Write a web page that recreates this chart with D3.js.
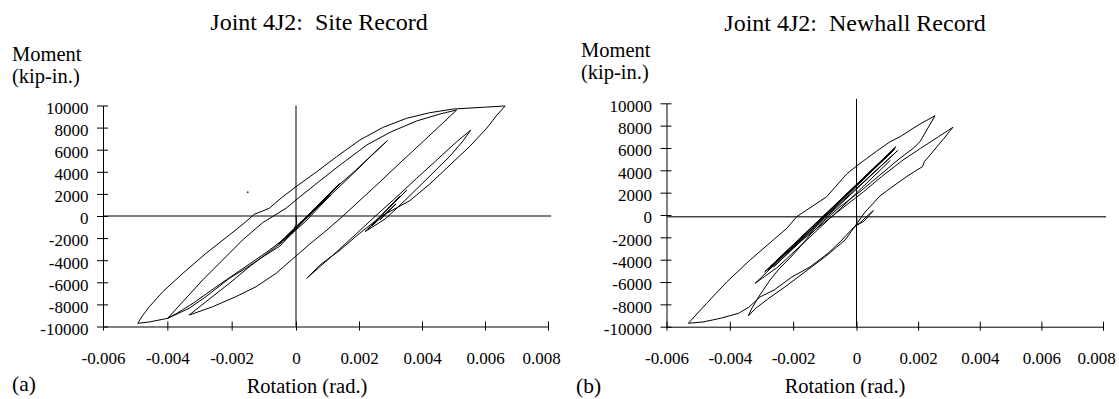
<!DOCTYPE html>
<html>
<head>
<meta charset="utf-8">
<script src="https://d3js.org/d3.v7.min.js"></script>
</head>
<body style="margin:0; background:white">
<div id="chart"></div>
<script>
// tick values shared by both panels
const xTicks = [-0.006, -0.004, -0.002, 0, 0.002, 0.004, 0.006, 0.008];
const yTicks = [-10000, -8000, -6000, -4000, -2000, 0, 2000, 4000, 6000, 8000, 10000];

// ---- (a) Site record : [rotation (rad), moment (kip-in.)] ----
const siteEarly = [[0,0],[0.00002,-700],[-0.00008,-1300],[-0.0005,-2450],[0.0014,2950],[-0.0004,-2200],[0.00135,2800],
  [-0.00055,-2550],[0.0013,2650],[-0.00035,-2000],[0.0014,2900],[0.0019,4150],[0.0024,5500],[0.0029,6815],
  [0.00241,5500],[0.00193,4160],[0.0014,2710],[0.00076,990],[0.00013,-770],[-0.0005,-2720],[-0.00104,-3710],
  [-0.00155,-4710],[-0.00207,-5640],[-0.0028,-7300],[-0.00332,-8350],[-0.00399,-9260]];
const siteUpToP2 = [[-0.00399,-9260],[-0.00352,-7760],[-0.0029,-5790],[-0.00228,-3980],[-0.00166,-2170],[-0.00104,-610],
  [-0.00068,30],[-0.00031,700],[0,1450],[0.00066,2960],[0.0014,4620],[0.00225,6430],[0.00299,7580],[0.00383,8600],
  [0.00457,9230],[0.0051,9590]];
const siteDownFromP2 = [[0.0051,9590],[0.00457,8170],[0.00394,6490],[0.0033,4800],[0.00267,3100],[0.00203,1420],
  [0.00148,-30],[0.00098,-1270],[0.00044,-2530],[0,-3620],[-0.00062,-5190],[-0.00124,-6400],[-0.00187,-7300],
  [-0.00259,-8210],[-0.00311,-8750],[-0.00332,-8960]];
const siteMid = [[-0.00332,-8960],[-0.0028,-7760],[-0.00207,-6090],[-0.00145,-4590],[-0.00083,-3230],[-0.00041,-2330],
  [0.0003,-500],[0.0011,1900],[0.0006,600],[-0.0002,-1700],[-0.0009,-3250],[-0.0017,-4850],[-0.0025,-6450],
  [-0.0032,-7900],[-0.0037,-8800],[-0.00399,-9260],[-0.00456,-9590],[-0.00492,-9710]];
const siteUpToP1 = [[-0.00492,-9710],[-0.00477,-9020],[-0.00456,-8210],[-0.00414,-6850],[-0.00352,-5190],[-0.0028,-3380],
  [-0.00207,-1720],[-0.00156,-520],[-0.0013,150],[-0.00104,450],[-0.00083,700],[-0.00041,1750],[0,2650],
  [0.00066,4010],[0.00129,5370],[0.00203,6880],[0.00277,8030],[0.00351,8840],[0.00425,9350],[0.00499,9680],
  [0.00595,9840],[0.00664,9955]];
const siteLate = [[0.00664,9955],[0.00638,9140],[0.00606,7960],[0.00553,6340],[0.00489,4620],[0.00425,2900],
  [0.00362,1400],[0.00272,0],[0.00203,-1540],[0.0014,-3080],[0.00076,-4430],[0.00034,-5640],
  [0.00118,-3530],[0.00193,-1570],[0.00251,-30],[0.00309,1450],[0.00383,3410],[0.00447,5070],[0.0051,6720],
  [0.00555,7780],[0.0053,6790],[0.00489,5430],[0.00425,3620],[0.00362,1860],[0.00314,540],[0.00283,-270],
  [0.00219,-1420],[0.00352,2350],[0.00229,-1180],[0.0033,1810],[0.00241,-900],[0.00317,1090],[0.00267,-360]];
const siteStray = [[-0.0015,2150]];

// ---- (b) Newhall record ----
const newhallStart = [[0,0],[0.00002,-900],[0.00025,-550],[0.00055,400],[0.0004,50],[0.00013,-650],[0.00002,-895],
  [-0.00011,-1164],[-0.00046,-2238],[-0.0009,-3428],[-0.00147,-4654],[-0.00204,-5549],[-0.0026,-6713],
  [-0.00305,-7339],[-0.00339,-8234],[-0.00372,-8798],[-0.00429,-9245],[-0.00485,-9577],[-0.00531,-9693]];
const newhallUpToP1 = [[-0.00531,-9693],[-0.00473,-7903],[-0.0041,-5997],[-0.00336,-4028],[-0.00263,-2238],
  [-0.0022,-1190],[-0.00189,-152],[-0.00157,448],[-0.00094,1638],[-0.00031,3670],[0,4386],[0.00033,5057],
  [0.00066,5728],[0.00109,6560],[0.00141,7008],[0.00206,8145],[0.00255,8887]];
const newhallDownFromP1 = [[0.00255,8887],[0.00228,7608],[0.00206,6560],[0.00184,5970],[0.00141,5075],[0.00076,3580],
  [0.00011,2085],[-0.00052,743],[-0.00105,-600],[-0.00147,-1790],[-0.00178,-2837],[-0.0021,-3849],[-0.00242,-4744],
  [-0.00273,-5818],[-0.00305,-7160],[-0.0033,-8324],[-0.00342,-9040]];
const newhallUpToP2 = [[-0.00342,-9040],[-0.00317,-8324],[-0.0028,-7518],[-0.00226,-6444],[-0.00163,-5102],
  [-0.001,-3759],[-0.00036,-2238],[0.00028,269],[0.00076,1701],[0.00115,2506],[0.00161,3401],[0.00196,4028],
  [0.00214,4323],[0.0022,4770],[0.00239,5370],[0.00261,6113],[0.00284,6865],[0.00301,7455],[0.00313,7849]];
const newhallLate = [[0.00313,7849],[0.00266,7008],[0.00208,5970],[0.00151,4923],[0.00081,3428],[0.00023,2085],
  [-0.00036,806],[-0.001,-627],[-0.00163,-2059],[-0.0021,-3133],[-0.00242,-3849],[-0.00273,-4627],
  [0.00128,6113],[-0.0028,-4900],[0.00133,5755],[-0.00262,-4650],[0.00118,5730],[-0.0029,-5100],[0.00125,5950],
  [-0.0025,-4200],[-0.0032,-6113],[-0.0029,-5500],[-0.0025,-4700],[-0.0015,-2050],[-0.0005,600],[0.0005,3300],
  [0.0011,4900]];

const panels = [
  { tag: "(a)", title: "Joint 4J2:\u00a0\u00a0Site Record", xr: [103, 296, 548], yr: [326.5, 105.5],
    titleX: 319, titleY: 30, momentX: 12, momentY: 61, rotX: 307, rotY: 393, tagX: 12, tagY: 391,
    hLine: 0, vTop: 10000, series: [siteEarly, siteUpToP2, siteDownFromP2, siteMid, siteUpToP1, siteLate], dots: siteStray },
  { tag: "(b)", title: "Joint 4J2:\u00a0\u00a0Newhall Record", xr: [666.5, 856.5, 1103], yr: [326.7, 103.3],
    titleX: 855, titleY: 30.5, momentX: 581, momentY: 57, rotX: 845, rotY: 393, tagX: 576, tagY: 393,
    hLine: -150, vTop: 10400, series: [newhallStart, newhallUpToP1, newhallDownFromP1, newhallUpToP2, newhallLate], dots: [] }
];

const serif = "'Liberation Serif', 'Times New Roman', 'DejaVu Serif', serif";

const svg = d3.select("#chart").append("svg")
  .attr("width", 1119).attr("height", 399)
  .style("font-family", serif);

const fmtX = d => d === 0 ? "0" : d.toFixed(3);

panels.forEach(p => {
  const x = d3.scaleLinear().domain([-0.006, 0, 0.008]).range(p.xr);
  const y = d3.scaleLinear().domain([-10000, 10000]).range(p.yr);
  const g = svg.append("g");

  // axes with ticks crossing the line
  const gx = g.append("g").attr("transform", `translate(0,${y(-10000)})`)
    .call(d3.axisBottom(x).tickValues(xTicks).tickFormat(fmtX).tickSizeOuter(0));
  gx.selectAll(".tick line").attr("y1", -5).attr("y2", 4);
  gx.selectAll(".tick text").attr("y", 37.5).attr("dy", null)
    .attr("dx", d => d === 0.008 ? -7 : 0);   // last label pulled inside the chart edge

  const gy = g.append("g").attr("transform", `translate(${x(-0.006)},0)`)
    .call(d3.axisLeft(y).tickValues(yTicks).tickFormat(d => String(d)).tickSizeOuter(0));
  gy.selectAll(".tick line").attr("x1", 5).attr("x2", -6);
  gy.selectAll(".tick text").attr("x", -14.5).attr("dy", "0.46em");

  g.selectAll(".domain, .tick line").attr("stroke", "#000");
  g.selectAll(".tick text").style("font-family", serif).style("font-size", "17px").attr("fill", "#000");

  // zero reference lines
  g.append("line").attr("x1", x(-0.006)).attr("x2", x(0.0081))
    .attr("y1", y(p.hLine)).attr("y2", y(p.hLine)).attr("stroke", p.hLine ? "#444" : "#000").attr("stroke-width", p.hLine ? 1.4 : 1);
  g.append("line").attr("x1", x(0)).attr("x2", x(0))
    .attr("y1", y(p.vTop)).attr("y2", y(-10000)).attr("stroke", "#000");

  // hysteresis curves
  const line = d3.line().x(d => x(d[0])).y(d => y(d[1]));
  g.selectAll("path.loop").data(p.series).join("path")
    .attr("class", "loop").attr("d", line)
    .attr("fill", "none").attr("stroke", "#000").attr("stroke-width", 1).attr("stroke-linejoin", "round");
  g.selectAll("circle.dot").data(p.dots).join("circle")
    .attr("class", "dot").attr("cx", d => x(d[0])).attr("cy", d => y(d[1])).attr("r", 0.9).attr("fill", "#333");

  // text
  const label = (tx, ty, s, size, anchor) => g.append("text")
    .attr("x", tx).attr("y", ty).attr("text-anchor", anchor || "start")
    .style("font-family", serif).style("font-size", size + "px").text(s);
  label(p.titleX, p.titleY, p.title, 24, "middle");
  label(p.momentX, p.momentY, "Moment", 20.5);
  label(p.momentX, p.momentY + 22, "(kip-in.)", 20.5);
  label(p.rotX, p.rotY, "Rotation (rad.)", 20.5, "middle");
  label(p.tagX, p.tagY, p.tag, 21.5);
});
</script>
</body>
</html>
